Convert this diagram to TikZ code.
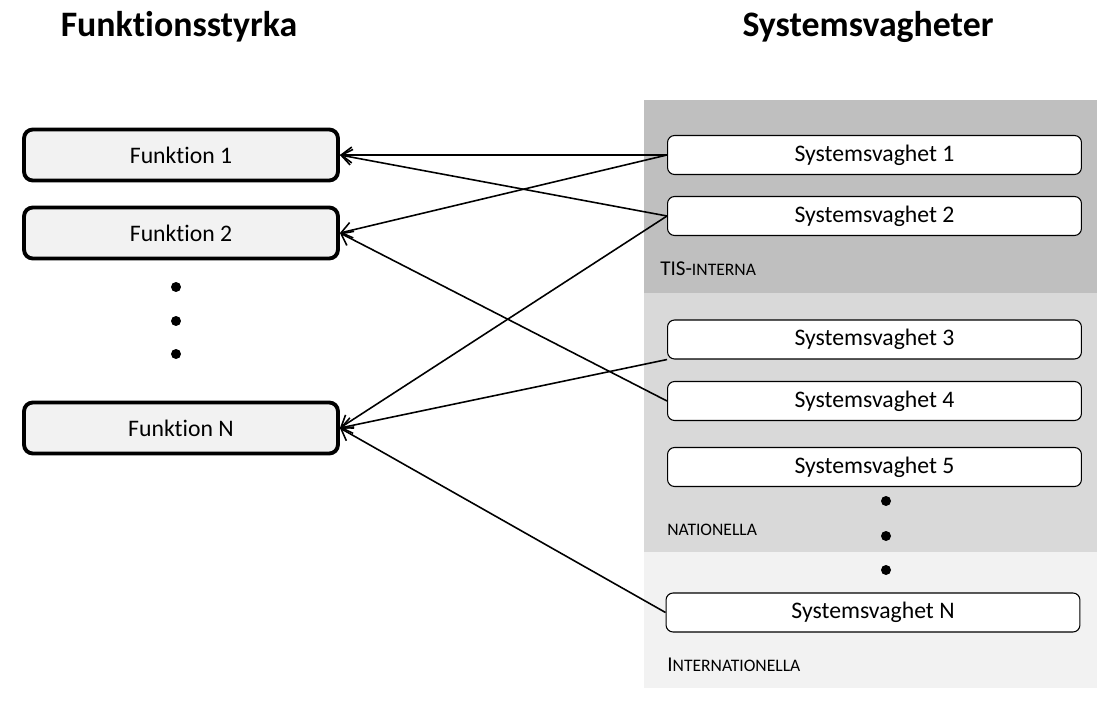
\documentclass[tikz,border=0pt]{standalone}
\usepackage{fontspec}
\setmainfont{Carlito}[Ligatures=NoCommon]
\usepackage{xcolor}
\usetikzlibrary{arrows.meta,positioning}
\definecolor{darkzone}{RGB}{191,191,191}
\definecolor{midzone}{RGB}{217,217,217}
\definecolor{lightzone}{RGB}{242,242,242}
\newcommand{\fakesc}[1]{{\fontsize{10}{12}\selectfont #1}}

\begin{document}
\begin{tikzpicture}[
    x=0.02cm, y=-0.02cm,
    func/.style={rectangle, draw=black, line width=2.2pt, fill=lightzone, rounded corners=5pt, minimum width=6.28cm, minimum height=1.02cm, font=\fontsize{13.5}{16}\selectfont},
    weak/.style={rectangle, draw=black, line width=0.6pt, fill=white, rounded corners=4pt, minimum width=8.28cm, minimum height=0.78cm, font=\fontsize{13.5}{16}\selectfont},
    dot/.style={circle, fill=black, inner sep=0pt, minimum size=0.2cm},
    title/.style={font=\fontsize{20.4}{24}\selectfont\bfseries},
    zonelabel/.style={anchor=west, inner sep=0pt, font=\fontsize{12}{14}\selectfont},
    link/.style={-{Straight Barb[length=6pt,width=9pt]}, line width=0.9pt}
]
    \useasboundingbox (0,0) rectangle (1117,706);

    % Zones on the right
    \fill[darkzone] (644,100) rectangle (1097,293);
    \fill[midzone] (644,293) rectangle (1097,552);
    \fill[lightzone] (644,552) rectangle (1097,688);

    % Titles
    \node[title] (ftitle) at (179,27) {Funktionsstyrka};
    \node[title] (stitle) at (868,27) {Systemsvagheter};

    % Functions
    \node[func] (f1) at (181,155) {Funktion 1};
    \node[func] (f2) at (181,233) {Funktion 2};
    \node[func] (fn) at (181,428) {Funktion N};
    \foreach \y [count=\i] in {287,321,354}
        \node[dot] (fdot\i) at (176,\y) {};

    % System weaknesses
    \node[weak] (sv1) at (874.5,155) {Systemsvaghet 1};
    \node[weak] (sv2) at (874.5,216) {Systemsvaghet 2};
    \node[weak] (sv3) at (874.5,339.5) {Systemsvaghet 3};
    \node[weak] (sv4) at (874.5,401) {Systemsvaghet 4};
    \node[weak] (sv5) at (874.5,467) {Systemsvaghet 5};
    \node[weak] (svn) at (873,612.5) {Systemsvaghet N};
    \foreach \y [count=\i] in {501,536,570}
        \node[dot] (sdot\i) at (886,\y) {};

    % Zone labels
    \node[zonelabel] (tis) at (660,269) {TIS-\fakesc{INTERNA}};
    \node[zonelabel] (nat) at (667,530) {\fakesc{NATIONELLA}};
    \node[zonelabel] (intl) at (667,665) {I\fakesc{NTERNATIONELLA}};

    % Connections
    \foreach \s/\f in {sv1.west/f1, sv1.west/f2, sv2.west/f1, sv2.west/fn, sv3.south west/fn, sv4.west/f2, svn.west/fn}
        \draw[link] (\s) -- (\f.east);
\end{tikzpicture}
\end{document}
